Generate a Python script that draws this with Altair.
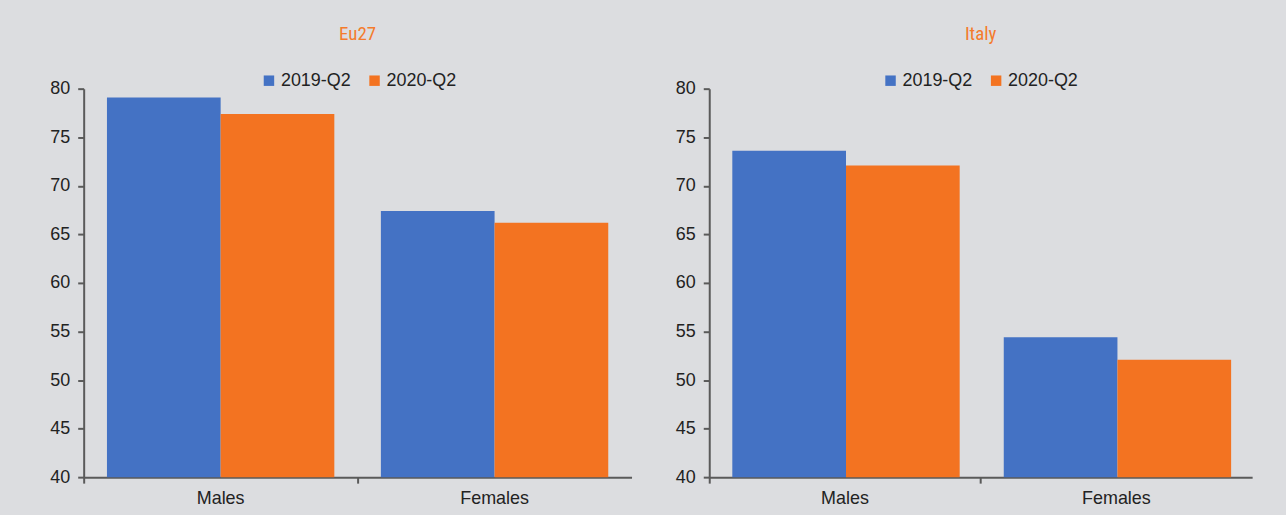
import altair as alt
import pandas as pd

groups = ["Males", "Females"]
series = ["2019-Q2", "2020-Q2"]
eu_2019 = [79.1, 67.4]
eu_2020 = [77.4, 66.2]
it_2019 = [73.6, 54.4]
it_2020 = [72.1, 52.1]
y_ticks = [40, 45, 50, 55, 60, 65, 70, 75, 80]

colors = ["#4472c4", "#f37321"]
title_color = "#f47b2c"
axis_color = "#5a5a5a"
FONT = "Liberation Sans"
TFONT = "Roboto Condensed, DejaVu Sans Condensed, Liberation Sans Narrow, Roboto, sans-serif"


def make_df(a, b):
    rows = []
    for g, v1, v2 in zip(groups, a, b):
        rows.append({"group": g, "series": series[0], "value": v1})
        rows.append({"group": g, "series": series[1], "value": v2})
    return pd.DataFrame(rows)


def panel(df, title, w, legend_x):
    return alt.Chart(df).mark_bar(clip=True).encode(
        x=alt.X("group:N", sort=groups, title=None,
                scale=alt.Scale(paddingInner=0.17, paddingOuter=0.085),
                axis=alt.Axis(labelAngle=0, labelFontSize=18, labelFont=FONT,
                              labelColor="#222222", labelPadding=6,
                              domainColor=axis_color, domainWidth=2,
                              ticks=True, bandPosition=-0.1024, tickSize=6,
                              tickColor=axis_color, tickWidth=2)),
        xOffset=alt.XOffset("series:N", sort=series),
        y=alt.Y("value:Q", title=None,
                scale=alt.Scale(domain=[40, 80], nice=False, zero=False),
                axis=alt.Axis(values=y_ticks, grid=False, labelFontSize=18,
                              labelFont=FONT, labelColor="#222222",
                              labelPadding=8, tickSize=6, tickColor=axis_color,
                              tickWidth=2, domainColor=axis_color,
                              domainWidth=2)),
        color=alt.Color("series:N", sort=series,
                        scale=alt.Scale(domain=series, range=colors),
                        legend=alt.Legend(title=None, orient="none",
                                          direction="horizontal",
                                          legendX=legend_x, legendY=-17,
                                          symbolType="square", symbolSize=110,
                                          symbolStrokeWidth=0,
                                          labelFontSize=18, labelFont=FONT,
                                          labelColor="#222222", columnPadding=14,
                                          labelOffset=3)),
    ).properties(
        width=w, height=390,
        title=alt.Title(title, anchor="middle", color=title_color,
                        font=TFONT, fontSize=19, fontWeight="normal",
                        offset=28),
    )


left = panel(make_df(eu_2019, eu_2020), "Eu27", 550, 177)
right = panel(make_df(it_2019, it_2020), "Italy", 545, 173)

chart = alt.hconcat(left, right, spacing=43).resolve_scale(
    color="independent").resolve_legend(color="independent").properties(
    background="#dcdde0",
    padding={"left": 49, "top": 24, "right": 34, "bottom": 10},
).configure_view(stroke=None)

chart.save("out.html", embed_options={"renderer": "svg", "actions": False})
